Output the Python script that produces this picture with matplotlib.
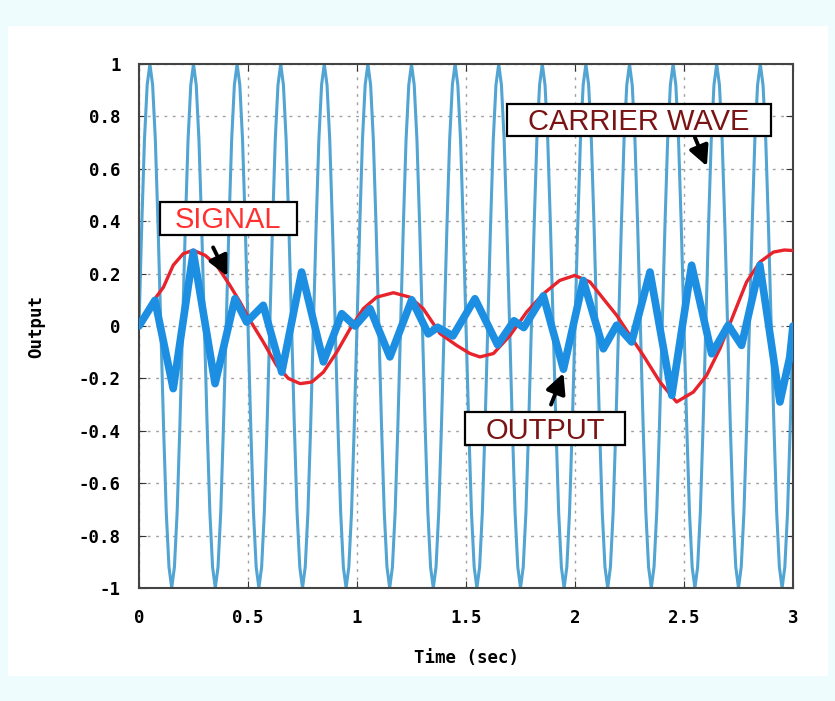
import numpy as np
import matplotlib.pyplot as plt
from matplotlib.patches import Rectangle

# carrier wave, read every 0.0125 s (one row = one 0.2 s cycle)
carrier_t = np.arange(0, 3.0001, 0.0125)
carrier_v = [
    0, 0.38, 0.71, 0.92, 1, 0.92, 0.71, 0.38, 0, -0.38, -0.71, -0.92, -1, -0.92, -0.71, -0.38,
    0, 0.38, 0.71, 0.92, 1, 0.92, 0.71, 0.38, 0, -0.38, -0.71, -0.92, -1, -0.92, -0.71, -0.38,
    0, 0.38, 0.71, 0.92, 1, 0.92, 0.71, 0.38, 0, -0.38, -0.71, -0.92, -1, -0.92, -0.71, -0.38,
    0, 0.38, 0.71, 0.92, 1, 0.92, 0.71, 0.38, 0, -0.38, -0.71, -0.92, -1, -0.92, -0.71, -0.38,
    0, 0.38, 0.71, 0.92, 1, 0.92, 0.71, 0.38, 0, -0.38, -0.71, -0.92, -1, -0.92, -0.71, -0.38,
    0, 0.38, 0.71, 0.92, 1, 0.92, 0.71, 0.38, 0, -0.38, -0.71, -0.92, -1, -0.92, -0.71, -0.38,
    0, 0.38, 0.71, 0.92, 1, 0.92, 0.71, 0.38, 0, -0.38, -0.71, -0.92, -1, -0.92, -0.71, -0.38,
    0, 0.38, 0.71, 0.92, 1, 0.92, 0.71, 0.38, 0, -0.38, -0.71, -0.92, -1, -0.92, -0.71, -0.38,
    0, 0.38, 0.71, 0.92, 1, 0.92, 0.71, 0.38, 0, -0.38, -0.71, -0.92, -1, -0.92, -0.71, -0.38,
    0, 0.38, 0.71, 0.92, 1, 0.92, 0.71, 0.38, 0, -0.38, -0.71, -0.92, -1, -0.92, -0.71, -0.38,
    0, 0.38, 0.71, 0.92, 1, 0.92, 0.71, 0.38, 0, -0.38, -0.71, -0.92, -1, -0.92, -0.71, -0.38,
    0, 0.38, 0.71, 0.92, 1, 0.92, 0.71, 0.38, 0, -0.38, -0.71, -0.92, -1, -0.92, -0.71, -0.38,
    0, 0.38, 0.71, 0.92, 1, 0.92, 0.71, 0.38, 0, -0.38, -0.71, -0.92, -1, -0.92, -0.71, -0.38,
    0, 0.38, 0.71, 0.92, 1, 0.92, 0.71, 0.38, 0, -0.38, -0.71, -0.92, -1, -0.92, -0.71, -0.38,
    0, 0.38, 0.71, 0.92, 1, 0.92, 0.71, 0.38, 0, -0.38, -0.71, -0.92, -1, -0.92, -0.71, -0.38,
    0,
]

# signal (red)
signal_t = [0, 0.073, 0.112, 0.157, 0.203, 0.249, 0.303, 0.356, 0.417, 0.463, 0.509,
            0.57, 0.631, 0.685, 0.739, 0.792, 0.846, 0.907, 0.968, 1.029, 1.09,
            1.167, 1.243, 1.304, 1.381, 1.457, 1.518, 1.564, 1.626, 1.702, 1.778,
            1.855, 1.93, 1.999, 2.069, 2.13, 2.191, 2.252, 2.313, 2.39, 2.466,
            2.543, 2.604, 2.665, 2.726, 2.787, 2.848, 2.91, 2.96, 3.0]
signal_v = [0, 0.104, 0.148, 0.232, 0.276, 0.289, 0.27, 0.232, 0.155, 0.092, 0.022,
            -0.061, -0.15, -0.2, -0.22, -0.214, -0.176, -0.1, -0.011, 0.066, 0.11,
            0.127, 0.11, 0.066, -0.029, -0.074, -0.105, -0.118, -0.105, -0.036, 0.053,
            0.123, 0.174, 0.193, 0.168, 0.104, 0.041, -0.036, -0.112, -0.214, -0.29,
            -0.252, -0.188, -0.086, 0.041, 0.168, 0.244, 0.282, 0.29, 0.288]

# output (thick blue)
output_t = [0, 0.073, 0.157, 0.249, 0.349, 0.44, 0.494, 0.57, 0.655, 0.746,
            0.846, 0.93, 0.991, 1.06, 1.151, 1.251, 1.327, 1.37, 1.44, 1.541,
            1.645, 1.72, 1.765, 1.855, 1.947, 2.038, 2.13, 2.191, 2.26, 2.344,
            2.444, 2.535, 2.627, 2.703, 2.764, 2.848, 2.94, 2.985, 3.0]
output_v = [0, 0.098, -0.239, 0.282, -0.22, 0.104, 0.015, 0.079, -0.176, 0.206,
            -0.137, 0.047, 0.0, 0.066, -0.118, 0.1, -0.03, -0.005, -0.038, 0.104,
            -0.072, 0.02, -0.006, 0.115, -0.165, 0.174, -0.087, 0.003, -0.061, 0.206,
            -0.265, 0.232, -0.106, 0.003, -0.074, 0.232, -0.29, -0.12, 0.0]

x_ticks = [0, 0.5, 1, 1.5, 2, 2.5, 3]
x_labels = ["0", "0.5", "1", "1.5", "2", "2.5", "3"]
y_ticks = [-1, -0.8, -0.6, -0.4, -0.2, 0, 0.2, 0.4, 0.6, 0.8, 1]
y_labels = ["-1", "-0.8", "-0.6", "-0.4", "-0.2", "0", "0.2", "0.4", "0.6", "0.8", "1"]

fig = plt.figure(figsize=(8.35, 7.01), dpi=100, facecolor="#eefcfd")
fig.patches.append(Rectangle((8 / 835, 1 - 676 / 701), 820 / 835, 650 / 701,
                             transform=fig.transFigure, facecolor="white",
                             edgecolor="none", zorder=-10))

ax = fig.add_axes([139 / 835, 1 - 588 / 701, 654 / 835, 524 / 701])
ax.set_zorder(5)
ax.plot(carrier_t, carrier_v, color="#52a4d2", lw=2.2, zorder=2)
ax.plot(signal_t, signal_v, color="#e8232b", lw=2.4, zorder=3)
ax.plot(output_t, output_v, color="#1c8fe3", lw=5.5, zorder=4,
        solid_joinstyle="round", solid_capstyle="round")

ax.set_xlim(0, 3)
ax.set_ylim(-1, 1)
ax.set_xticks(x_ticks)
ax.set_xticklabels(x_labels)
ax.set_yticks(y_ticks)
ax.set_yticklabels(y_labels)
mono = dict(family="DejaVu Sans Mono", weight="bold")
for lab in ax.get_xticklabels() + ax.get_yticklabels():
    lab.set_fontfamily("DejaVu Sans Mono")
    lab.set_fontweight("bold")
    lab.set_fontsize(12.5)
ax.tick_params(direction="in", top=True, right=True, length=5, color="#333333")
ax.tick_params(axis="x", pad=15)
ax.tick_params(axis="y", pad=13)
ax.grid(True, linestyle=(0, (2, 4)), color="#a0a0a0", lw=1.0)
for s in ax.spines.values():
    s.set_color("#444444")
    s.set_linewidth(1.5)

ax.set_xlabel("Time (sec)", fontsize=12.5, labelpad=16, **mono)
ax.set_ylabel("Output", fontsize=12.5, labelpad=24, **mono)

# label boxes
boxes = [(0.096, 0.347, 0.629, 0.126), (1.688, 0.725, 1.211, 0.122), (1.495, -0.454, 0.734, 0.126)]
for bx, by, bw, bh in boxes:
    ax.add_patch(Rectangle((bx, by), bw, bh, facecolor="white", edgecolor="black",
                           lw=1.6, zorder=7))

arrow = dict(arrowstyle="-|>,head_length=1.2,head_width=0.6", color="black", lw=2.8,
             shrinkA=0, shrinkB=0)
ax.annotate("", xy=(0.405, 0.19), xytext=(0.34, 0.30), arrowprops=arrow, zorder=6)
ax.annotate("", xy=(2.605, 0.61), xytext=(2.55, 0.72), arrowprops=arrow, zorder=6)
ax.annotate("", xy=(1.947, -0.18), xytext=(1.89, -0.30), arrowprops=arrow, zorder=6)

lab_font = dict(fontsize=21, family="Liberation Sans", ha="center", va="baseline", zorder=8)
ax.text(0.41, 0.375, "SIGNAL", color="#ff3030", **lab_font)
ax.text(2.294, 0.747, "CARRIER WAVE", color="#7a1414", **lab_font)
ax.text(1.862, -0.43, "OUTPUT", color="#7a1414", **lab_font)

fig.savefig("out.png", dpi=100, facecolor=fig.get_facecolor())
